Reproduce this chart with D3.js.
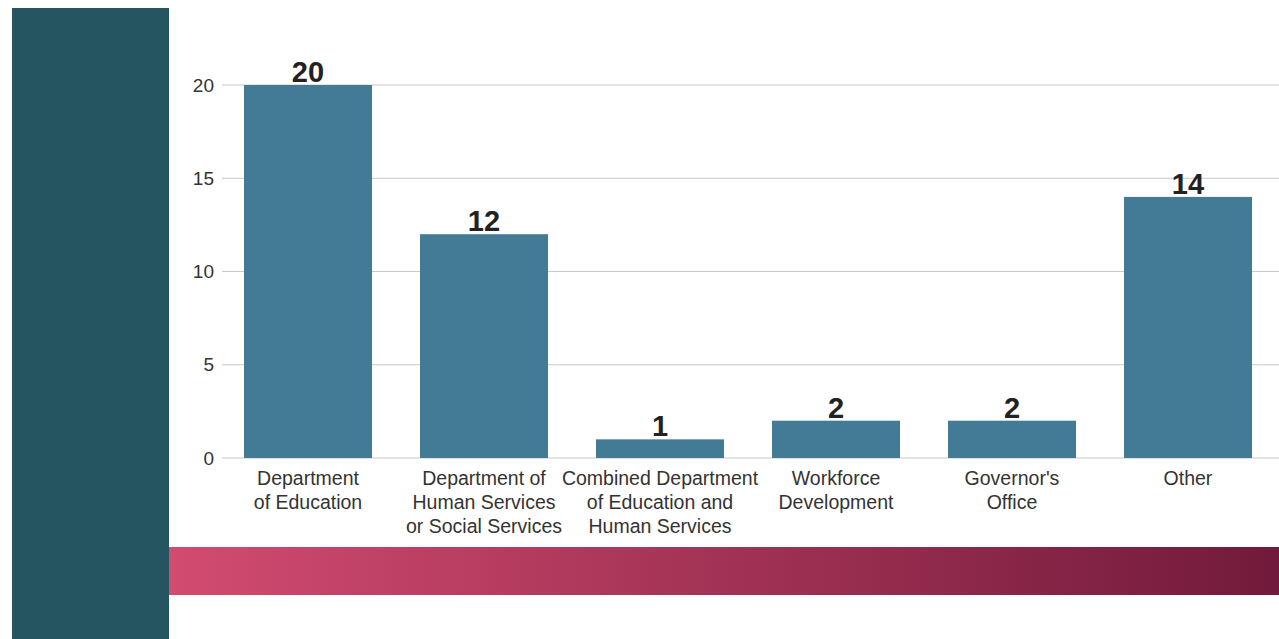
<!DOCTYPE html>
<html><head><meta charset="utf-8">
<script src="https://cdn.jsdelivr.net/npm/d3@7"></script>
<style>body{margin:0;background:#fff;}svg{display:block;}</style>
</head><body>
<svg id="c" width="1279" height="639"></svg>
<script>
const categories = [
  ["Department", "of Education"],
  ["Department of", "Human Services", "or Social Services"],
  ["Combined Department", "of Education and", "Human Services"],
  ["Workforce", "Development"],
  ["Governor's", "Office"],
  ["Other"]
];
const values = [20, 12, 1, 2, 2, 14];
const yTicks = [0, 5, 10, 15, 20];

const svg = d3.select("#c");
const font = "Liberation Sans";

// left dark panel
svg.append("rect").attr("x", 12).attr("y", 8).attr("width", 157).attr("height", 631).attr("fill", "#265562");

// gradient band
const defs = svg.append("defs");
const g = defs.append("linearGradient").attr("id", "grad").attr("x1", "0%").attr("x2", "100%");
g.append("stop").attr("offset", "0%").attr("stop-color", "#d24b70");
g.append("stop").attr("offset", "100%").attr("stop-color", "#721a3b");
svg.append("rect").attr("x", 169).attr("y", 547).attr("width", 1110).attr("height", 48).attr("fill", "url(#grad)");

const x = d3.scaleBand().domain(d3.range(categories.length)).range([220, 1276]).paddingInner(0.2727).paddingOuter(0.1364);
const y = d3.scaleLinear().domain([0, 20]).range([458, 85]);

// gridlines
svg.append("g").selectAll("line").data(yTicks).join("line")
  .attr("x1", 222).attr("x2", 1279)
  .attr("y1", d => y(d)).attr("y2", d => y(d))
  .attr("stroke", "#c8c8c8").attr("stroke-width", 1);

// y axis labels
const yAxis = d3.axisLeft(y).tickValues(yTicks).tickSize(0).tickPadding(0);
const ya = svg.append("g").attr("transform", "translate(214,0)").call(yAxis);
ya.select(".domain").remove();
ya.selectAll("text").attr("font-family", font).attr("font-size", 19).attr("fill", "#333");

// bars
svg.append("g").selectAll("rect").data(values).join("rect")
  .attr("x", (d, i) => x(i)).attr("width", x.bandwidth())
  .attr("y", d => y(d)).attr("height", d => y(0) - y(d))
  .attr("fill", "#437b96");

// value labels
svg.append("g").selectAll("text").data(values).join("text")
  .attr("x", (d, i) => x(i) + x.bandwidth() / 2)
  .attr("y", d => y(d) - 3)
  .attr("text-anchor", "middle")
  .attr("font-family", font).attr("font-size", 29).attr("font-weight", "bold").attr("fill", "#222")
  .text(d => d);

// category labels
const cl = svg.append("g").selectAll("text").data(categories).join("text")
  .attr("text-anchor", "middle")
  .attr("font-family", font).attr("font-size", 19.5).attr("fill", "#333");
cl.each(function(lines, i) {
  const t = d3.select(this);
  lines.forEach((ln, j) => {
    t.append("tspan").attr("x", x(i) + x.bandwidth() / 2).attr("y", 485 + j * 24).text(ln);
  });
});
</script>
</body></html>
